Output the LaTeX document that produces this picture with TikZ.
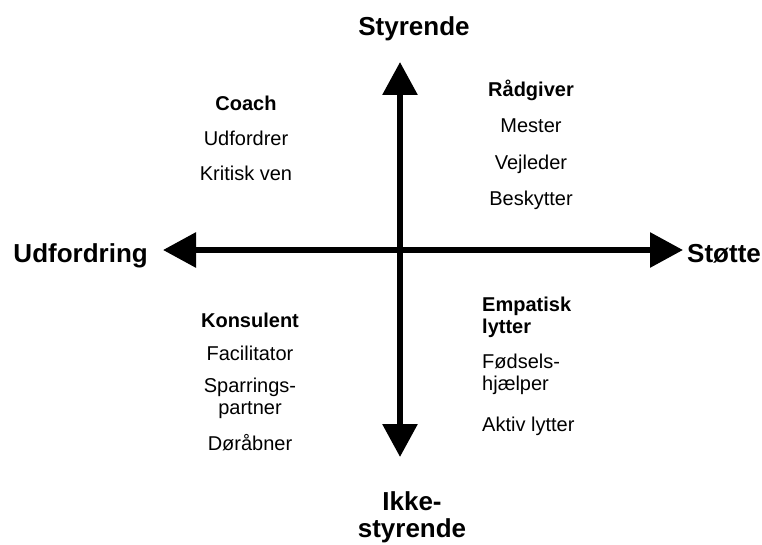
\documentclass[tikz,border=0pt]{standalone}
\usepackage{fontspec}
\setmainfont{Liberation Sans}
\usetikzlibrary{arrows.meta,positioning}

\begin{document}
\begin{tikzpicture}[x=1pt, y=-1pt,
    axis/.style={line width=6pt, {Triangle[length=33pt,width=34pt]}-{Triangle[length=33pt,width=34pt]}},
    axlbl/.style={font=\bfseries\fontsize{26}{27}\selectfont, inner sep=0},
    role/.style={font=\bfseries\fontsize{20}{22}\selectfont, inner sep=0},
    item/.style={font=\fontsize{20}{22}\selectfont, inner sep=0}]
  \useasboundingbox (0,0) rectangle (762,545);
  % axis ends
  \coordinate (top) at (400,62);
  \coordinate (bot) at (400,457);
  \coordinate (lft) at (163,250);
  \coordinate (rgt) at (683,250);
  \draw[axis] (bot) -- (top);
  \draw[axis] (lft) -- (rgt);
  % axis labels
  \node (styr) at (414,36) [axlbl, anchor=base] {Styrende};
  \node (ikke) at (412,491) [axlbl, anchor=north, align=center] {Ikke-\\styrende};
  \node (udf) at (148,262) [axlbl, anchor=base east] {Udfordring};
  \node (stoette) at (687,262) [axlbl, anchor=base west] {Støtte};
  % upper left
  \node (coach) at (246,111) [role, anchor=base] {Coach};
  \node (c1) at (246,146) [item, anchor=base] {Udfordrer};
  \node (c2) at (246,181) [item, anchor=base] {Kritisk ven};
  % upper right
  \node (raad) at (531,97) [role, anchor=base] {Rådgiver};
  \node (r1) at (531,133) [item, anchor=base] {Mester};
  \node (r2) at (531,170) [item, anchor=base] {Vejleder};
  \node (r3) at (531,206) [item, anchor=base] {Beskytter};
  % lower left
  \node (kons) at (250,327) [role, anchor=base] {Konsulent};
  \node (k1) at (250,360) [item, anchor=base] {Facilitator};
  \node (k2) at (250,378) [item, anchor=north, align=center] {Sparrings-\\partner};
  \node (k3) at (250,450) [item, anchor=base] {Døråbner};
  % lower right
  \node (emp) at (482,297) [role, anchor=north west, align=left] {Empatisk\\lytter};
  \node (e1) at (482,354) [item, anchor=north west, align=left] {Fødsels-\\hjælper};
  \node (e2) at (482,431) [item, anchor=base west] {Aktiv lytter};
\end{tikzpicture}
\end{document}
